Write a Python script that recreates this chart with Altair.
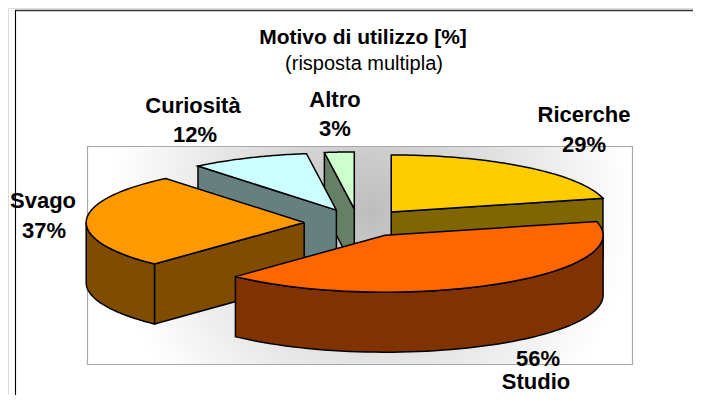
import numpy as np
import pandas as pd
import altair as alt

# ---- data
names = ["Ricerche", "Studio", "Svago", "Curiosità", "Altro"]
values = [29, 56, 37, 12, 3]
top_colors = ["#FFCC00", "#FF6600", "#FF9900", "#CCFFFF", "#CCFFCC"]
side_colors = ["#806600", "#803300", "#804D00", "#668080", "#668066"]

# ---- projection of the tilted, exploded pie (in page pixels)
CX, CY, RX, RY, DEPTH, EXPLODE = 358.0, 223.0, 218.0, 57.0, 60.0, 0.247
xs = alt.Scale(domain=[8, 693], nice=False, zero=False)
ys = alt.Scale(domain=[395, 8], nice=False, zero=False)
X = lambda f="x": alt.X(f"{f}:Q", scale=xs, axis=None)
Y = lambda f="y": alt.Y(f"{f}:Q", scale=ys, axis=None)

total = sum(values)
edges = np.concatenate([[0], np.cumsum(values)]) / total * 2 * np.pi
slices = []
for i in range(len(values)):
    a0, a1 = edges[i], edges[i + 1]
    mid = (a0 + a1) / 2
    c = (CX + EXPLODE * RX * np.sin(mid), CY - EXPLODE * RY * np.cos(mid))
    slices.append(dict(a0=a0, a1=a1, c=c))


def rim(s, a0, a1, dz=0.0, n=60):
    t = np.linspace(a0, a1, n)
    return [(s["c"][0] + RX * np.sin(v), s["c"][1] - RY * np.cos(v) + dz) for v in t]


def poly(points, fill, sw=1.5):
    pts = list(points) + [points[0]]
    df = pd.DataFrame({"x": [p[0] for p in pts], "y": [p[1] for p in pts], "seq": range(len(pts))})
    return alt.Chart(df).mark_line(
        fill=fill, stroke="#000000", strokeWidth=sw, strokeJoin="miter", clip=False
    ).encode(x=X(), y=Y(), order=alt.Order("seq:Q"))


def edge_face(s, ang, fill):
    c = s["c"]
    p = rim(s, ang, ang, n=1)[0]
    return poly([c, p, (p[0], p[1] + DEPTH), (c[0], c[1] + DEPTH)], fill)


def rim_face(s, a0, a1, fill):
    return poly(rim(s, a0, a1) + rim(s, a1, a0, DEPTH), fill)


def top_face(s, fill):
    return poly([s["c"]] + rim(s, s["a0"], s["a1"]), fill)


def text(t, x, y, size=22, weight="bold"):
    df = pd.DataFrame({"x": [x], "y": [y], "t": [t]})
    return alt.Chart(df).mark_text(
        font="Liberation Sans", fontSize=size, fontWeight=weight, color="#000000",
        align="center", baseline="alphabetic",
    ).encode(x=X(), y=Y(), text="t:N")


# ---- plot wall with soft shadow
wall = pd.DataFrame({"x": [87.5], "x2": [632.5], "y": [146.5], "y2": [364.5]})
wall_layer = alt.Chart(wall).mark_rect(
    color=alt.RadialGradient(
        gradient="radial", x1=0.52, y1=0.42, r1=0, x2=0.52, y2=0.42, r2=0.48,
        stops=[
            alt.GradientStop(offset=0, color="#bdbdbd"),
            alt.GradientStop(offset=0.45, color="#dcdcdc"),
            alt.GradientStop(offset=1, color="#ffffff"),
        ],
    ),
    stroke="#a8a8a8", strokeWidth=1.2,
).encode(x=X(), x2="x2:Q", y=Y(), y2="y2:Q")

# ---- outer frame (only top and left edges are in the window)
top_line = alt.Chart(pd.DataFrame({"x": [15], "x2": [693], "y": [10.5]})).mark_rule(
    color="#333333", strokeWidth=1.6).encode(x=X(), x2="x2:Q", y=Y())
left_line = alt.Chart(pd.DataFrame({"x": [15.5], "y": [10], "y2": [395]})).mark_rule(
    color="#000000", strokeWidth=1.1).encode(x=X(), y=Y(), y2="y2:Q")

ric, stu, sva, cur, alt_ = slices
layers = [
    wall_layer, top_line, left_line,
    # back to front
    edge_face(alt_, alt_["a0"], side_colors[4]), top_face(alt_, top_colors[4]),
    edge_face(cur, cur["a0"], side_colors[3]), top_face(cur, top_colors[3]),
    edge_face(ric, ric["a1"], side_colors[0]), top_face(ric, top_colors[0]),
    edge_face(sva, sva["a0"], side_colors[2]),
    rim_face(sva, sva["a0"], 1.5 * np.pi, side_colors[2]), top_face(sva, top_colors[2]),
    rim_face(stu, 0.5 * np.pi, stu["a1"], side_colors[1]), top_face(stu, top_colors[1]),
    text("Motivo di utilizzo [%]", 363, 44, 21),
    text("(risposta multipla)", 364, 70, 20, "normal"),
    text(names[3], 193, 113), text(f"{values[3]}%", 195, 142),
    text(names[4], 335, 107), text(f"{values[4]}%", 335, 136),
    text(names[0], 584, 122), text(f"{values[0]}%", 584, 152),
    text(names[2], 43, 208), text(f"{values[2]}%", 44, 238),
    text(f"{values[1]}%", 538, 366), text(names[1], 536, 389),
]

chart = alt.layer(*layers).properties(
    width=685, height=387, padding=0, autosize=alt.AutoSizeParams(type="none")
).configure_view(stroke=None).configure(background="#ffffff")

chart.save("out.html", embed_options={"renderer": "svg", "actions": False})
